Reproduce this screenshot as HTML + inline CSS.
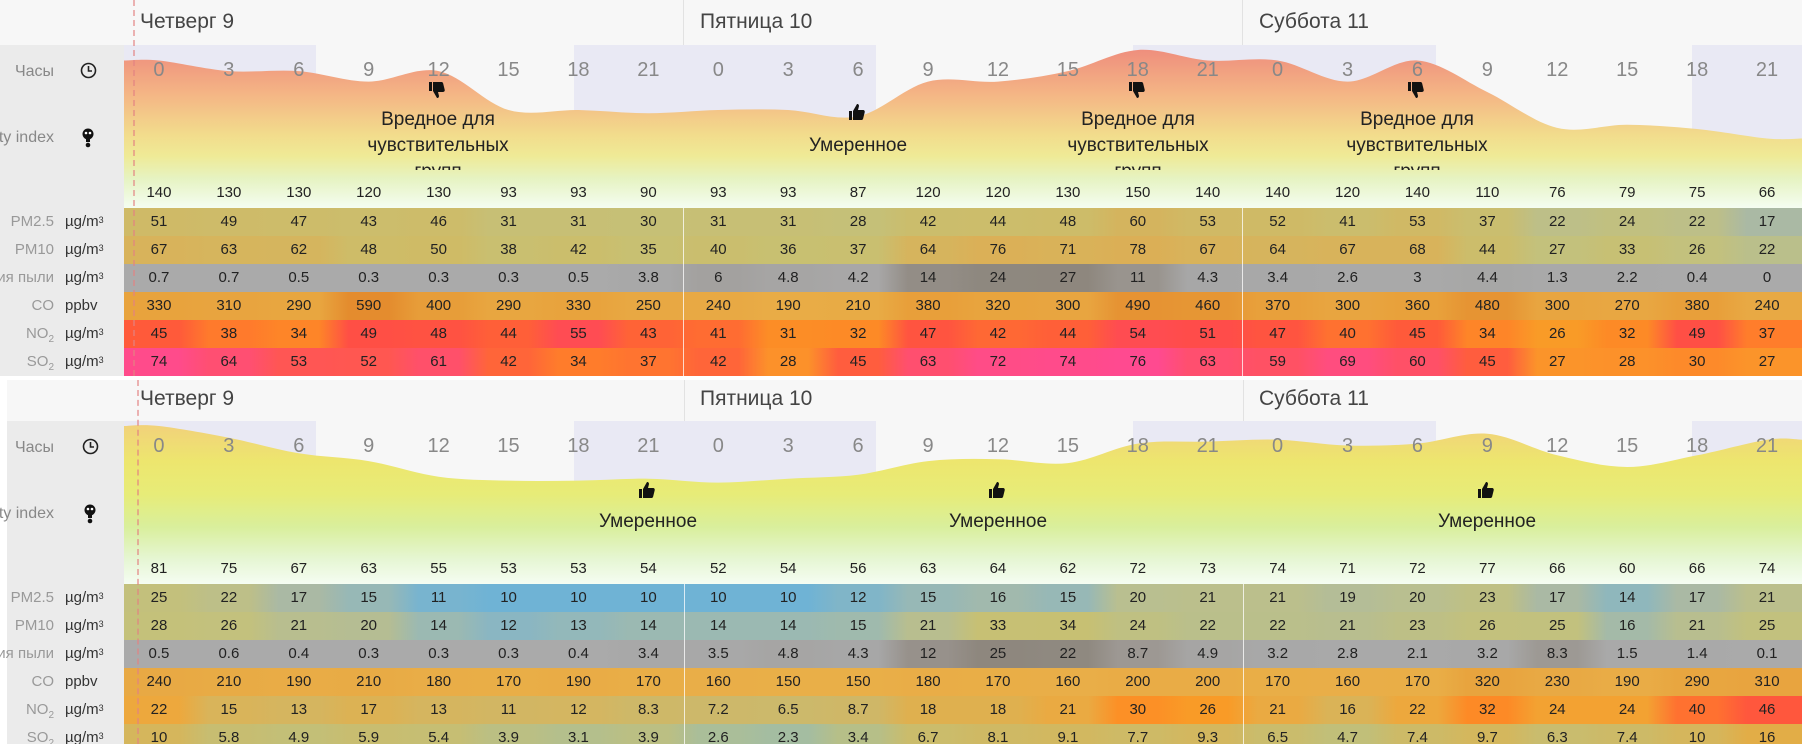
<!DOCTYPE html>
<html><head><meta charset="utf-8">
<style>
*{margin:0;padding:0;box-sizing:border-box}
body{width:1802px;height:744px;overflow:hidden;background:#fff;font-family:"Liberation Sans","DejaVu Sans",sans-serif;position:relative}
.panel{position:absolute;left:0;width:1802px;background:#f7f7f7;overflow:hidden}
.lbl{position:absolute;left:0;width:124px;background:#ebebeb}
.day{position:absolute;font-size:21px;color:#444;line-height:24px}
.sep{position:absolute;width:1px;background:#e2e2e2}
.rowsep{position:absolute;width:1px;background:rgba(255,255,255,0.75)}
.grid{position:absolute;left:124px;width:1678px;display:grid;grid-template-columns:repeat(24,1fr);text-align:center}
.hrs{font-size:20px;color:#888;height:30px;line-height:30px}
.idx{font-size:15px;color:#222;height:22px;line-height:22px}
.r{font-size:15px;color:#222;height:28px;line-height:28px}
.name{position:absolute;left:0;width:54px;display:flex;justify-content:flex-end;overflow:hidden;font-size:15px;color:#999;white-space:nowrap;line-height:28px}
.name span{flex:none}
.unit{position:absolute;left:65px;font-size:15px;color:#333;line-height:28px}
.unit sup{font-size:9px;vertical-align:top;position:relative;top:-2px}
.name sub{font-size:10px}
.cat{position:absolute;width:160px;margin-left:-80px;text-align:center;font-size:19px;color:#222;line-height:26px;overflow:hidden}
.ic{position:absolute}
.dash{position:absolute;width:0;border-left:2px dashed rgba(226,130,130,0.6)}
</style></head><body>

<!-- TOP PANEL -->
<div class="panel" id="p1" style="top:0;height:376px">
  <div class="lbl" style="top:45px;height:331px"></div>
  <svg class="ic" id="svg1" style="left:124px;top:45px" width="1678" height="163"></svg>
  <div class="sep" style="left:683px;top:0;height:45px"></div>
  <div class="sep" style="left:1242px;top:0;height:45px"></div>
  <div class="day" style="left:140px;top:10px">Четверг 9</div>
  <div class="day" style="left:700px;top:10px">Пятница 10</div>
  <div class="day" style="left:1259px;top:10px">Суббота 11</div>
  <div class="name" style="top:58px;font-size:16px;color:#888"><span>Часы</span></div>
  <svg class="ic" style="left:80px;top:62px" width="17" height="17"><circle cx="8.5" cy="8.5" r="7" fill="none" stroke="#222" stroke-width="1.6"/><path d="M8.5 4v5h3.5" fill="none" stroke="#222" stroke-width="1.6"/></svg>
  <div class="name" style="top:124px;font-size:16px;color:#888"><span>Air quality index</span></div>
  <svg class="ic" style="left:81px;top:128px" width="14" height="20"><ellipse cx="7" cy="6" rx="5.5" ry="5.5" fill="#111"/><circle cx="5" cy="5" r="1.3" fill="#fff"/><circle cx="9" cy="5" r="1.3" fill="#fff"/><rect x="5" y="10" width="4" height="4" fill="#111"/><circle cx="7" cy="17" r="2.3" fill="#111"/></svg>
  <div class="grid hrs" style="top:55px"><span>0</span><span>3</span><span>6</span><span>9</span><span>12</span><span>15</span><span>18</span><span>21</span><span>0</span><span>3</span><span>6</span><span>9</span><span>12</span><span>15</span><span>18</span><span>21</span><span>0</span><span>3</span><span>6</span><span>9</span><span>12</span><span>15</span><span>18</span><span>21</span></div>
  <svg class="ic" style="left:427px;top:80px" width="22" height="20"><g transform="translate(0,20) scale(1,-1)"><path d="M2 9h3v9H2zM6 9l4-7c1.5 0 2.2 1 1.9 2.5L11 8h5c1.2 0 2 1 1.7 2.2l-1.6 6.5c-.3 1-1 1.3-2 1.3H6z" fill="#111"/></g></svg>
  <svg class="ic" style="left:1127px;top:80px" width="22" height="20"><g transform="translate(0,20) scale(1,-1)"><path d="M2 9h3v9H2zM6 9l4-7c1.5 0 2.2 1 1.9 2.5L11 8h5c1.2 0 2 1 1.7 2.2l-1.6 6.5c-.3 1-1 1.3-2 1.3H6z" fill="#111"/></g></svg>
  <svg class="ic" style="left:1406px;top:80px" width="22" height="20"><g transform="translate(0,20) scale(1,-1)"><path d="M2 9h3v9H2zM6 9l4-7c1.5 0 2.2 1 1.9 2.5L11 8h5c1.2 0 2 1 1.7 2.2l-1.6 6.5c-.3 1-1 1.3-2 1.3H6z" fill="#111"/></g></svg>
  <svg class="ic" style="left:847px;top:102px" width="22" height="20"><path d="M2 9h3v9H2zM6 9l4-7c1.5 0 2.2 1 1.9 2.5L11 8h5c1.2 0 2 1 1.7 2.2l-1.6 6.5c-.3 1-1 1.3-2 1.3H6z" fill="#111"/></svg>
  <div class="cat" style="left:438px;top:107px;height:63px">Вредное для чувствительных групп</div>
  <div class="cat" style="left:858px;top:133px;height:26px">Умеренное</div>
  <div class="cat" style="left:1138px;top:107px;height:63px">Вредное для чувствительных групп</div>
  <div class="cat" style="left:1417px;top:107px;height:63px">Вредное для чувствительных групп</div>
  <div class="grid idx aqi" style="top:182px"><span>140</span><span>130</span><span>130</span><span>120</span><span>130</span><span>93</span><span>93</span><span>90</span><span>93</span><span>93</span><span>87</span><span>120</span><span>120</span><span>130</span><span>150</span><span>140</span><span>140</span><span>120</span><span>140</span><span>110</span><span>76</span><span>79</span><span>75</span><span>66</span></div>

  <div class="name" style="top:208px"><span>PM2.5</span></div><div class="unit" style="top:208px">µg/m<sup>3</sup></div>
  <div class="name" style="top:236px"><span>PM10</span></div><div class="unit" style="top:236px">µg/m<sup>3</sup></div>
  <div class="name" style="top:264px"><span>Концентрация пыли</span></div><div class="unit" style="top:264px">µg/m<sup>3</sup></div>
  <div class="name" style="top:292px"><span>CO</span></div><div class="unit" style="top:292px">ppbv</div>
  <div class="name" style="top:320px"><span>NO<sub>2</sub></span></div><div class="unit" style="top:320px">µg/m<sup>3</sup></div>
  <div class="name" style="top:348px"><span>SO<sub>2</sub></span></div><div class="unit" style="top:348px">µg/m<sup>3</sup></div>

  <div class="grid r" data-p="pm25" style="top:208px"><span>51</span><span>49</span><span>47</span><span>43</span><span>46</span><span>31</span><span>31</span><span>30</span><span>31</span><span>31</span><span>28</span><span>42</span><span>44</span><span>48</span><span>60</span><span>53</span><span>52</span><span>41</span><span>53</span><span>37</span><span>22</span><span>24</span><span>22</span><span>17</span></div>
  <div class="grid r" data-p="pm10" style="top:236px"><span>67</span><span>63</span><span>62</span><span>48</span><span>50</span><span>38</span><span>42</span><span>35</span><span>40</span><span>36</span><span>37</span><span>64</span><span>76</span><span>71</span><span>78</span><span>67</span><span>64</span><span>67</span><span>68</span><span>44</span><span>27</span><span>33</span><span>26</span><span>22</span></div>
  <div class="grid r" data-p="dust" style="top:264px"><span>0.7</span><span>0.7</span><span>0.5</span><span>0.3</span><span>0.3</span><span>0.3</span><span>0.5</span><span>3.8</span><span>6</span><span>4.8</span><span>4.2</span><span>14</span><span>24</span><span>27</span><span>11</span><span>4.3</span><span>3.4</span><span>2.6</span><span>3</span><span>4.4</span><span>1.3</span><span>2.2</span><span>0.4</span><span>0</span></div>
  <div class="grid r" data-p="co" style="top:292px"><span>330</span><span>310</span><span>290</span><span>590</span><span>400</span><span>290</span><span>330</span><span>250</span><span>240</span><span>190</span><span>210</span><span>380</span><span>320</span><span>300</span><span>490</span><span>460</span><span>370</span><span>300</span><span>360</span><span>480</span><span>300</span><span>270</span><span>380</span><span>240</span></div>
  <div class="grid r" data-p="no2" style="top:320px"><span>45</span><span>38</span><span>34</span><span>49</span><span>48</span><span>44</span><span>55</span><span>43</span><span>41</span><span>31</span><span>32</span><span>47</span><span>42</span><span>44</span><span>54</span><span>51</span><span>47</span><span>40</span><span>45</span><span>34</span><span>26</span><span>32</span><span>49</span><span>37</span></div>
  <div class="grid r" data-p="so2" style="top:348px"><span>74</span><span>64</span><span>53</span><span>52</span><span>61</span><span>42</span><span>34</span><span>37</span><span>42</span><span>28</span><span>45</span><span>63</span><span>72</span><span>74</span><span>76</span><span>63</span><span>59</span><span>69</span><span>60</span><span>45</span><span>27</span><span>28</span><span>30</span><span>27</span></div>
  <div class="rowsep" style="left:683px;top:208px;height:168px"></div>
  <div class="rowsep" style="left:1242px;top:208px;height:168px"></div>
  <div class="dash" style="left:133px;top:0;height:376px"></div>
</div>

<!-- BOTTOM PANEL -->
<div class="panel" id="p2" style="top:380px;height:364px">
  <div class="lbl" style="top:41px;height:323px"></div>
  <div style="position:absolute;left:0;top:0;width:7px;height:364px;background:#fff"></div>
  <svg class="ic" id="svg2" style="left:124px;top:41px" width="1678" height="163"></svg>
  <div class="sep" style="left:684px;top:0;height:41px"></div>
  <div class="sep" style="left:1243px;top:0;height:41px"></div>
  <div class="day" style="left:140px;top:7px">Четверг 9</div>
  <div class="day" style="left:700px;top:7px">Пятница 10</div>
  <div class="day" style="left:1259px;top:7px">Суббота 11</div>
  <div class="name" style="top:54px;font-size:16px;color:#888"><span>Часы</span></div>
  <svg class="ic" style="left:82px;top:58px" width="17" height="17"><circle cx="8.5" cy="8.5" r="7" fill="none" stroke="#222" stroke-width="1.6"/><path d="M8.5 4v5h3.5" fill="none" stroke="#222" stroke-width="1.6"/></svg>
  <div class="name" style="top:120px;font-size:16px;color:#888"><span>Air quality index</span></div>
  <svg class="ic" style="left:83px;top:124px" width="14" height="20"><ellipse cx="7" cy="6" rx="5.5" ry="5.5" fill="#111"/><circle cx="5" cy="5" r="1.3" fill="#fff"/><circle cx="9" cy="5" r="1.3" fill="#fff"/><rect x="5" y="10" width="4" height="4" fill="#111"/><circle cx="7" cy="17" r="2.3" fill="#111"/></svg>
  <div class="grid hrs" style="top:51px"><span>0</span><span>3</span><span>6</span><span>9</span><span>12</span><span>15</span><span>18</span><span>21</span><span>0</span><span>3</span><span>6</span><span>9</span><span>12</span><span>15</span><span>18</span><span>21</span><span>0</span><span>3</span><span>6</span><span>9</span><span>12</span><span>15</span><span>18</span><span>21</span></div>
  <svg class="ic" style="left:637px;top:100px" width="22" height="20"><path d="M2 9h3v9H2zM6 9l4-7c1.5 0 2.2 1 1.9 2.5L11 8h5c1.2 0 2 1 1.7 2.2l-1.6 6.5c-.3 1-1 1.3-2 1.3H6z" fill="#111"/></svg>
  <svg class="ic" style="left:987px;top:100px" width="22" height="20"><path d="M2 9h3v9H2zM6 9l4-7c1.5 0 2.2 1 1.9 2.5L11 8h5c1.2 0 2 1 1.7 2.2l-1.6 6.5c-.3 1-1 1.3-2 1.3H6z" fill="#111"/></svg>
  <svg class="ic" style="left:1476px;top:100px" width="22" height="20"><path d="M2 9h3v9H2zM6 9l4-7c1.5 0 2.2 1 1.9 2.5L11 8h5c1.2 0 2 1 1.7 2.2l-1.6 6.5c-.3 1-1 1.3-2 1.3H6z" fill="#111"/></svg>
  <div class="cat" style="left:648px;top:129px;height:26px">Умеренное</div>
  <div class="cat" style="left:998px;top:129px;height:26px">Умеренное</div>
  <div class="cat" style="left:1487px;top:129px;height:26px">Умеренное</div>
  <div class="grid idx aqi" style="top:178px"><span>81</span><span>75</span><span>67</span><span>63</span><span>55</span><span>53</span><span>53</span><span>54</span><span>52</span><span>54</span><span>56</span><span>63</span><span>64</span><span>62</span><span>72</span><span>73</span><span>74</span><span>71</span><span>72</span><span>77</span><span>66</span><span>60</span><span>66</span><span>74</span></div>

  <div class="name" style="top:204px"><span>PM2.5</span></div><div class="unit" style="top:204px">µg/m<sup>3</sup></div>
  <div class="name" style="top:232px"><span>PM10</span></div><div class="unit" style="top:232px">µg/m<sup>3</sup></div>
  <div class="name" style="top:260px"><span>Концентрация пыли</span></div><div class="unit" style="top:260px">µg/m<sup>3</sup></div>
  <div class="name" style="top:288px"><span>CO</span></div><div class="unit" style="top:288px">ppbv</div>
  <div class="name" style="top:316px"><span>NO<sub>2</sub></span></div><div class="unit" style="top:316px">µg/m<sup>3</sup></div>
  <div class="name" style="top:344px"><span>SO<sub>2</sub></span></div><div class="unit" style="top:344px">µg/m<sup>3</sup></div>

  <div class="grid r" data-p="pm25" style="top:204px"><span>25</span><span>22</span><span>17</span><span>15</span><span>11</span><span>10</span><span>10</span><span>10</span><span>10</span><span>10</span><span>12</span><span>15</span><span>16</span><span>15</span><span>20</span><span>21</span><span>21</span><span>19</span><span>20</span><span>23</span><span>17</span><span>14</span><span>17</span><span>21</span></div>
  <div class="grid r" data-p="pm10" style="top:232px"><span>28</span><span>26</span><span>21</span><span>20</span><span>14</span><span>12</span><span>13</span><span>14</span><span>14</span><span>14</span><span>15</span><span>21</span><span>33</span><span>34</span><span>24</span><span>22</span><span>22</span><span>21</span><span>23</span><span>26</span><span>25</span><span>16</span><span>21</span><span>25</span></div>
  <div class="grid r" data-p="dust" style="top:260px"><span>0.5</span><span>0.6</span><span>0.4</span><span>0.3</span><span>0.3</span><span>0.3</span><span>0.4</span><span>3.4</span><span>3.5</span><span>4.8</span><span>4.3</span><span>12</span><span>25</span><span>22</span><span>8.7</span><span>4.9</span><span>3.2</span><span>2.8</span><span>2.1</span><span>3.2</span><span>8.3</span><span>1.5</span><span>1.4</span><span>0.1</span></div>
  <div class="grid r" data-p="co" style="top:288px"><span>240</span><span>210</span><span>190</span><span>210</span><span>180</span><span>170</span><span>190</span><span>170</span><span>160</span><span>150</span><span>150</span><span>180</span><span>170</span><span>160</span><span>200</span><span>200</span><span>170</span><span>160</span><span>170</span><span>320</span><span>230</span><span>190</span><span>290</span><span>310</span></div>
  <div class="grid r" data-p="no2" style="top:316px"><span>22</span><span>15</span><span>13</span><span>17</span><span>13</span><span>11</span><span>12</span><span>8.3</span><span>7.2</span><span>6.5</span><span>8.7</span><span>18</span><span>18</span><span>21</span><span>30</span><span>26</span><span>21</span><span>16</span><span>22</span><span>32</span><span>24</span><span>24</span><span>40</span><span>46</span></div>
  <div class="grid r" data-p="so2" style="top:344px"><span>10</span><span>5.8</span><span>4.9</span><span>5.9</span><span>5.4</span><span>3.9</span><span>3.1</span><span>3.9</span><span>2.6</span><span>2.3</span><span>3.4</span><span>6.7</span><span>8.1</span><span>9.1</span><span>7.7</span><span>9.3</span><span>6.5</span><span>4.7</span><span>7.4</span><span>9.7</span><span>6.3</span><span>7.4</span><span>10</span><span>16</span></div>
  <div class="rowsep" style="left:684px;top:204px;height:160px"></div>
  <div class="rowsep" style="left:1243px;top:204px;height:160px"></div>
  <div class="dash" style="left:137px;top:0;height:364px"></div>
</div>

<script>
var scales={
pm25:[[0,'#5fb0d8'],[10,'#6fb3d5'],[12,'#80b5c8'],[15,'#97b8b6'],[17,'#aab9a4'],[20,'#b9bf90'],[25,'#c3c07c'],[35,'#c9bf70'],[50,'#cebb68'],[60,'#d4b45e']],
pm10:[[10,'#7fb4cc'],[12,'#8ab6c2'],[14,'#9bb9b2'],[20,'#b5bd93'],[25,'#c2c17e'],[35,'#c8c072'],[50,'#cfbb66'],[65,'#d7b45c'],[80,'#dcae55']],
dust:[[0,'#aaaaaa'],[4,'#a8a8a8'],[8,'#9e9a95'],[14,'#938d86'],[25,'#8e877e']],
co:[[150,'#e9af48'],[250,'#e8a843'],[350,'#e8a23c'],[480,'#e69433'],[600,'#e48b2e']],
no2:[[6,'#cbb96c'],[13,'#d5b55f'],[17,'#dcb254'],[22,'#eda83d'],[26,'#f99b27'],[32,'#fd8a26'],[38,'#ff7a2c'],[45,'#ff5a3a'],[50,'#ff4c48'],[56,'#ff4c55']],
so2:[[2,'#9dbcaa'],[3,'#b3bf8d'],[5,'#c4bf76'],[7,'#ccbb69'],[10,'#d5b65c'],[16,'#e2ad47'],[20,'#eca53b'],[27,'#fb942a'],[34,'#ff7c2b'],[45,'#ff5d3e'],[60,'#ff5067'],[70,'#ff4d82'],[77,'#ff4a92']]};
function hex(h){return [parseInt(h.substr(1,2),16),parseInt(h.substr(3,2),16),parseInt(h.substr(5,2),16)];}
function col(p,v){var s=scales[p];if(v<=s[0][0])return s[0][1];if(v>=s[s.length-1][0])return s[s.length-1][1];
for(var i=1;i<s.length;i++){if(v<=s[i][0]){var t=(v-s[i-1][0])/(s[i][0]-s[i-1][0]);var a=hex(s[i-1][1]),b=hex(s[i][1]);
return 'rgb('+[0,1,2].map(function(k){return Math.round(a[k]+(b[k]-a[k])*t)}).join(',')+')';}}}
document.querySelectorAll('.r').forEach(function(r){var p=r.getAttribute('data-p');var sp=r.querySelectorAll('span');var st=[];
sp.forEach(function(s,i){var c=col(p,parseFloat(s.textContent));var x=(i+0.5)/24*100;st.push(c+' '+(x-1.2).toFixed(2)+'%');st.push(c+' '+(x+1.2).toFixed(2)+'%');});
r.style.background='linear-gradient(to right,'+st.join(',')+')';});
function build(svgId,panelId,stops){
var svg=document.getElementById(svgId);var vals=[].map.call(document.querySelectorAll('#'+panelId+' .aqi span'),function(s){return parseFloat(s.textContent)});
var mx=Math.max.apply(null,vals);var k=158/mx;var cw=1678/24;
var pts=[[0,163-k*vals[0]]];vals.forEach(function(v,i){pts.push([cw*(i+0.5),163-k*v]);});pts.push([1678,163-k*vals[23]]);
var d='M'+pts[0][0]+' '+pts[0][1];
for(var i=0;i<pts.length-1;i++){var p0=pts[Math.max(0,i-1)],p1=pts[i],p2=pts[i+1],p3=pts[Math.min(pts.length-1,i+2)];
var c1x=p1[0]+(p2[0]-p0[0])/6,c1y=p1[1]+(p2[1]-p0[1])/6,c2x=p2[0]-(p3[0]-p1[0])/6,c2y=p2[1]-(p3[1]-p1[1])/6;
d+=' C'+c1x.toFixed(1)+' '+c1y.toFixed(1)+' '+c2x.toFixed(1)+' '+c2y.toFixed(1)+' '+p2[0].toFixed(1)+' '+p2[1].toFixed(1);}
d+=' L1678 163 L0 163 Z';
var g='<defs><linearGradient id="g'+svgId+'" x1="0" y1="0" x2="0" y2="163" gradientUnits="userSpaceOnUse">'+stops.map(function(s){return '<stop offset="'+s[0]+'" stop-color="'+s[1]+'"/>'}).join('')+'</linearGradient></defs>';
var sh=[[0,192],[450,302],[1009,303],[1568,110]].map(function(a){return '<rect x="'+a[0]+'" y="0" width="'+a[1]+'" height="163" fill="#e9e9f4"/>'}).join('');
svg.innerHTML=g+sh+'<path d="'+d+'" fill="url(#g'+svgId+')"/>';}
build('svg1','p1',[[0,'#ee8a7c'],[0.3,'#f4b585'],[0.55,'#f2dc8c'],[0.68,'#efea96'],[0.82,'#e6f3c2'],[1,'#f4fdf1']]);
build('svg2','p2',[[0,'#f2cf7c'],[0.25,'#ede66e'],[0.45,'#e7ec78'],[0.65,'#d9ef9c'],[0.85,'#e6f6d4'],[1,'#f5fdf2']]);
</script>
</body></html>
